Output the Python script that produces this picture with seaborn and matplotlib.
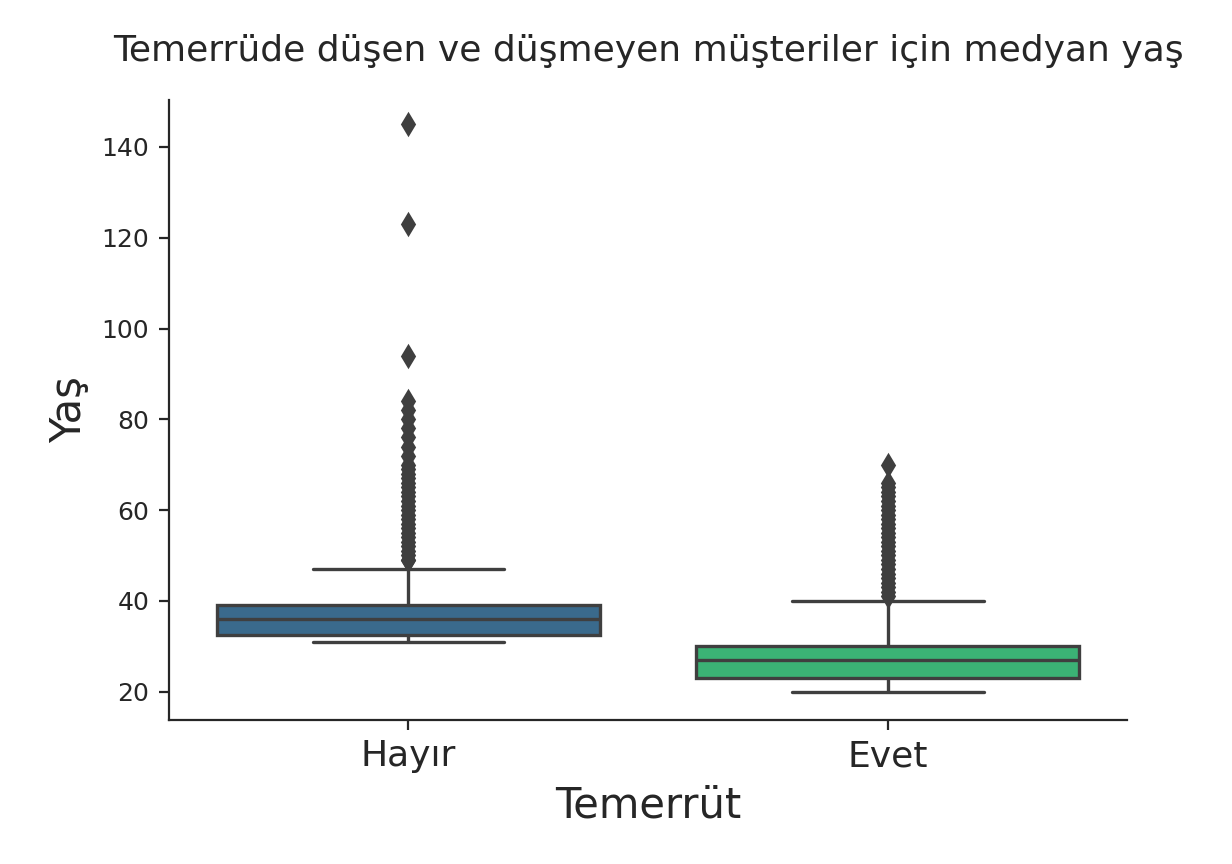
import numpy as np
import pandas as pd
import seaborn as sns
import matplotlib.pyplot as plt

# Age values and how many customers have each value
hayir_ages = [31, 32, 33, 34, 35, 36, 37, 38, 39, 41, 44, 47, 49,
              50, 51, 52, 53, 54, 55, 56, 57, 58, 59, 60, 61, 62, 63, 64, 65, 66, 67, 68, 69, 70,
              72, 74, 76, 78, 80, 82, 84, 94, 123, 145]
hayir_counts = [3, 40, 10, 10, 14, 12, 10, 9, 22, 3, 3, 2, 2,
                1, 1, 1, 1, 1, 1, 1, 1, 1, 1, 1, 1, 1, 1, 1, 1, 1, 1, 1, 1, 1,
                1, 1, 1, 1, 1, 1, 1, 1, 1, 1]

evet_ages = [20, 21, 22, 23, 24, 25, 26, 27, 28, 29, 30, 32, 35, 38, 40,
             41, 42, 43, 44, 45, 46, 47, 48, 49, 50, 51, 52, 53, 54, 55, 56, 57, 58, 59, 60,
             61, 62, 63, 64, 65, 66, 70]
evet_counts = [4, 6, 12, 30, 14, 14, 18, 14, 13, 12, 22, 4, 3, 2, 2,
               1, 1, 1, 1, 1, 1, 1, 1, 1, 1, 1, 1, 1, 1, 1, 1, 1, 1, 1, 1,
               1, 1, 1, 1, 1, 1, 1]

groups = ['Hayır', 'Evet']

df = pd.DataFrame({
    'Temerrüt': ['Hayır'] * sum(hayir_counts) + ['Evet'] * sum(evet_counts),
    'Yaş': np.concatenate([np.repeat(hayir_ages, hayir_counts), np.repeat(evet_ages, evet_counts)]),
})

sns.set_style('ticks')
fig, ax = plt.subplots(figsize=(6.16, 4.32), dpi=200)
fig.subplots_adjust(left=0.137, right=0.915, bottom=0.167, top=0.884)

sns.boxplot(data=df, x='Temerrüt', y='Yaş', order=groups, hue='Temerrüt',
            palette=['#3a6a8c', '#3bb375'], saturation=1, width=0.8,
            linecolor='#3f3f3f', linewidth=1.2,
            flierprops=dict(marker='d', markersize=5, markerfacecolor='#3f3f3f',
                            markeredgecolor='#3f3f3f'), ax=ax)
sns.despine()

ax.set_ylim(13.8, 150.3)
ax.set_yticks([20, 40, 60, 80, 100, 120, 140])
ax.tick_params(axis='y', labelsize=9)
ax.tick_params(axis='x', labelsize=13)
ax.set_xlabel('Temerrüt', fontsize=15)
ax.set_ylabel('Yaş', fontsize=15)
ax.set_title('Temerrüde düşen ve düşmeyen müşteriler için medyan yaş', fontsize=13, pad=14)

plt.savefig('out.png')
